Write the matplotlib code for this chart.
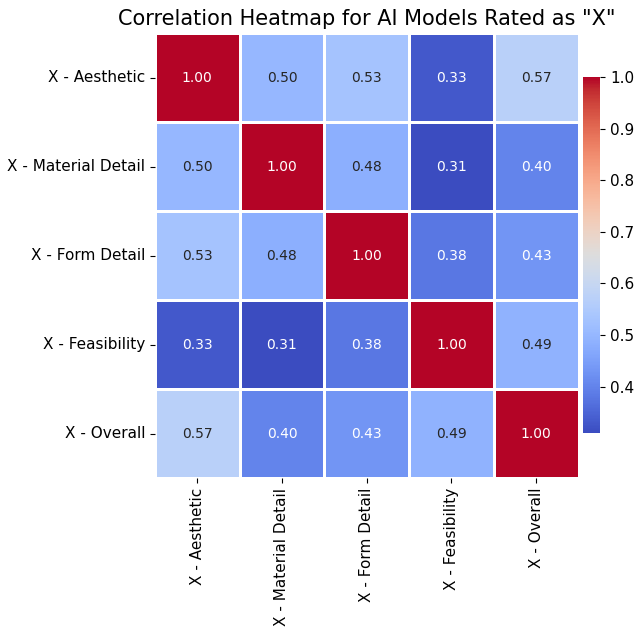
import numpy as np
import matplotlib
matplotlib.use('Agg')
import matplotlib.pyplot as plt
import seaborn as sns

labels = ['X - Aesthetic', 'X - Material Detail', 'X - Form Detail', 'X - Feasibility', 'X - Overall']
corr = np.array([
    [1.00, 0.50, 0.53, 0.33, 0.57],
    [0.50, 1.00, 0.48, 0.31, 0.40],
    [0.53, 0.48, 1.00, 0.38, 0.43],
    [0.33, 0.31, 0.38, 1.00, 0.49],
    [0.57, 0.40, 0.43, 0.49, 1.00],
])

fig = plt.figure(figsize=(6.4, 6.36), dpi=100)
ax = fig.add_axes([0.242, 0.248, 0.662, 0.700])
cax = fig.add_axes([0.911, 0.319, 0.027, 0.560])
sns.heatmap(corr, annot=True, fmt='.2f', cmap='coolwarm', linewidths=1, linecolor='white',
            xticklabels=labels, yticklabels=labels, ax=ax, cbar_ax=cax, annot_kws={'size': 10})
ax.set_title('Correlation Heatmap for AI Models Rated as "X"', fontsize=15)
ax.tick_params(labelsize=11)
plt.setp(ax.get_xticklabels(), rotation=90)
plt.setp(ax.get_yticklabels(), rotation=0)
cax.tick_params(labelsize=11)
fig.savefig('out.png')
